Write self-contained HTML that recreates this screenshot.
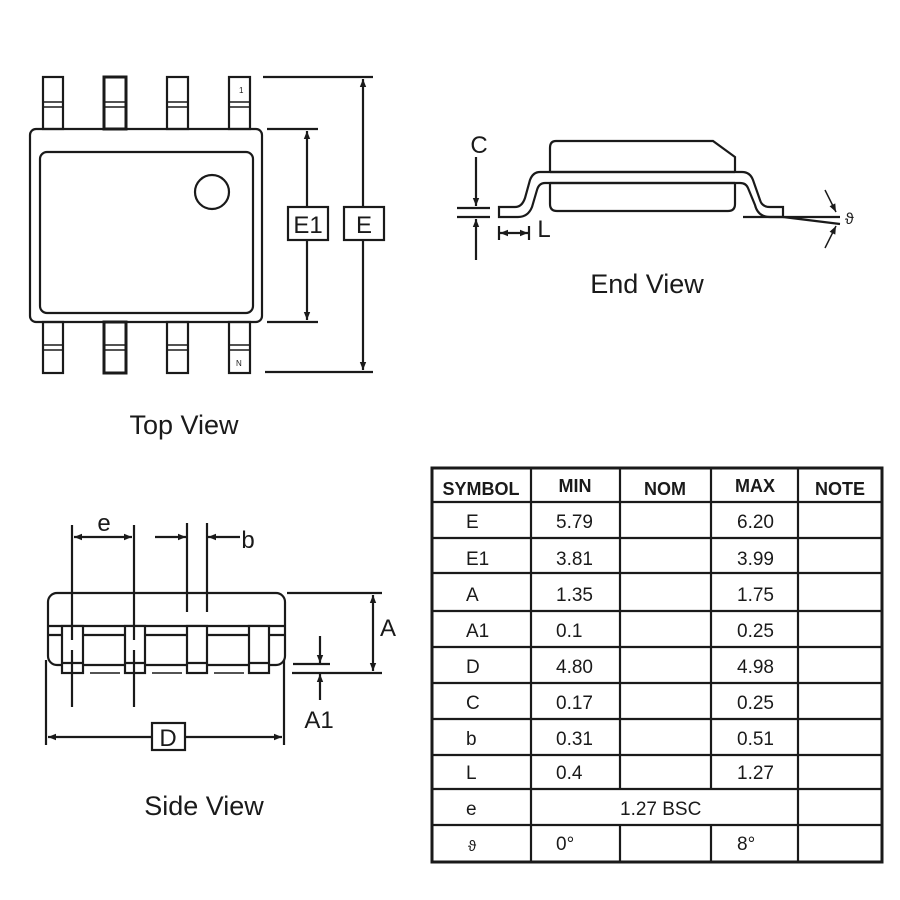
<!DOCTYPE html>
<html><head><meta charset="utf-8"><style>
body{margin:0;background:#fff}
svg{display:block}
text{font-family:"Liberation Sans",sans-serif;fill:#1a1a1a}
</style></head><body>
<svg width="900" height="900" viewBox="0 0 900 900" xmlns="http://www.w3.org/2000/svg">
<defs>
<marker id="ar" viewBox="0 0 10 10" refX="10" refY="5" markerWidth="10" markerHeight="8" orient="auto-start-reverse" markerUnits="userSpaceOnUse"><path d="M0,1 L10,5 L0,9 z" fill="#1a1a1a"/></marker>
</defs>
<g stroke="#1a1a1a" stroke-width="2.2" fill="none">
<!-- TOP VIEW -->
<rect x="30" y="129" width="232" height="193" rx="6" fill="#fff"/>
<rect x="40" y="152" width="213" height="161" rx="7"/>
<circle cx="212" cy="192" r="17"/>
<g>
<rect x="43" y="77" width="20" height="52"/><rect x="104" y="77" width="22" height="52" stroke-width="3"/><rect x="167" y="77" width="21" height="52"/><rect x="229" y="77" width="21" height="52"/>
<rect x="43" y="322" width="20" height="51"/><rect x="104" y="322" width="22" height="51" stroke-width="3"/><rect x="167" y="322" width="21" height="51"/><rect x="229" y="322" width="21" height="51"/>
<path d="M43 102H63M43 107H63M104 102H126M104 107H126M167 102H188M167 107H188M229 102H250M229 107H250" stroke-width="1.5"/>
<path d="M43 345H63M43 350H63M104 345H126M104 350H126M167 345H188M167 350H188M229 345H250M229 350H250" stroke-width="1.5"/>
</g>
<path d="M267 129H318M267 322H318M263 77H373M265 372H373"/>
<line x1="307" y1="131" x2="307" y2="207" marker-start="url(#ar)"/>
<line x1="307" y1="240" x2="307" y2="320" marker-end="url(#ar)"/>
<line x1="363" y1="79" x2="363" y2="207" marker-start="url(#ar)"/>
<line x1="363" y1="240" x2="363" y2="370" marker-end="url(#ar)"/>
<rect x="288" y="207" width="40" height="33" fill="#fff"/>
<rect x="344" y="207" width="40" height="33" fill="#fff"/>

<!-- END VIEW -->
<path d="M556 141H713L735 157V204Q735 211 728 211H557Q550 211 550 204V148Q550 141 556 141Z" fill="#fff"/>
<path d="M499 207H515Q522 207 525 198L530 180Q533 172 540 172H742Q750 172 753 180L760 200Q762 207 770 207H783V217H770Q758 217 755 205L748 188Q746 183 740 183H545Q539 183 537 190L532 207Q528 217 518 217H499Z" fill="#fff"/>
<path d="M550 172H735M550 183H735" />
<path d="M743 217H840M783 217L840 224M457 208H490M457 217H490"/>
<line x1="476" y1="157" x2="476" y2="206" marker-end="url(#ar)"/>
<line x1="476" y1="260" x2="476" y2="219" marker-end="url(#ar)"/>
<path d="M499 226V240M529 226V240"/>
<line x1="500" y1="233" x2="528" y2="233" marker-start="url(#ar)" marker-end="url(#ar)"/>
<line x1="825" y1="190" x2="836" y2="212" marker-end="url(#ar)" stroke-width="1.5"/>
<line x1="825" y1="248" x2="836" y2="226" marker-end="url(#ar)" stroke-width="1.5"/>

<!-- SIDE VIEW -->
<rect x="48" y="593" width="237" height="72" rx="9" fill="#fff"/>
<path d="M48 626H285M48 635H285"/>
<g fill="#fff">
<rect x="62" y="626" width="21" height="47"/><rect x="125" y="626" width="20" height="47"/><rect x="187" y="626" width="20" height="47"/><rect x="249" y="626" width="20" height="47"/>
</g>
<path d="M62 663H83M125 663H145M187 663H207M249 663H269"/>
<path d="M90 673H120M152 673H182M214 673H244" stroke-width="1.5"/>
<path d="M72 525V640M72 650V707M134 525V640M134 650V707M187 523V612M207 523V612"/>
<line x1="74" y1="537" x2="132" y2="537" marker-start="url(#ar)" marker-end="url(#ar)"/>
<line x1="155" y1="537" x2="186" y2="537" marker-end="url(#ar)"/>
<line x1="240" y1="537" x2="208" y2="537" marker-end="url(#ar)"/>
<path d="M287 593H382M292 673H382M293 664H330"/>
<line x1="373" y1="595" x2="373" y2="671" marker-start="url(#ar)" marker-end="url(#ar)"/>
<line x1="320" y1="636" x2="320" y2="663" marker-end="url(#ar)"/>
<line x1="320" y1="700" x2="320" y2="674" marker-end="url(#ar)"/>
<path d="M46 660V745M284 660V745"/>
<line x1="48" y1="737" x2="152" y2="737" marker-start="url(#ar)"/>
<line x1="185" y1="737" x2="282" y2="737" marker-end="url(#ar)"/>
<rect x="152" y="723" width="33" height="27" fill="#fff"/>

<!-- TABLE -->
<rect x="432" y="468" width="450" height="394" stroke-width="3"/>
<path d="M432 502H882M432 538H882M432 573H882M432 611H882M432 647H882M432 683H882M432 719H882M432 755H882M432 789H882M432 825H882"/>
<path d="M531 468V862M798 468V862M620 468V789M711 468V789M620 825V862M711 825V862"/>
</g>
<g font-size="9">
<text x="239" y="93" font-size="8">1</text><text x="236" y="366" font-size="8">N</text>
</g>
<g font-size="24" text-anchor="middle">
<text x="308" y="233">E1</text><text x="364" y="233">E</text>
<text x="479" y="153">C</text><text x="544" y="237">L</text>
<text x="104" y="531">e</text><text x="248" y="548">b</text>
<text x="388" y="636">A</text><text x="319" y="728">A1</text>
<text x="168" y="746">D</text>
</g>
<text x="845" y="224" font-size="16">ϑ</text>
<g font-size="27" text-anchor="middle">
<text x="184" y="434">Top View</text>
<text x="647" y="293">End View</text>
<text x="204" y="815">Side View</text>
</g>
<g font-size="18" font-weight="bold" text-anchor="middle">
<text x="481" y="495">SYMBOL</text><text x="575" y="492">MIN</text><text x="665" y="495">NOM</text><text x="755" y="492">MAX</text><text x="840" y="495">NOTE</text>
</g>
<g font-size="19">
<text x="466" y="528">E</text><text x="556" y="528">5.79</text><text x="737" y="528">6.20</text>
<text x="466" y="565">E1</text><text x="556" y="565">3.81</text><text x="737" y="565">3.99</text>
<text x="466" y="601">A</text><text x="556" y="601">1.35</text><text x="737" y="601">1.75</text>
<text x="466" y="637">A1</text><text x="556" y="637">0.1</text><text x="737" y="637">0.25</text>
<text x="466" y="673">D</text><text x="556" y="673">4.80</text><text x="737" y="673">4.98</text>
<text x="466" y="709">C</text><text x="556" y="709">0.17</text><text x="737" y="709">0.25</text>
<text x="466" y="745">b</text><text x="556" y="745">0.31</text><text x="737" y="745">0.51</text>
<text x="466" y="779">L</text><text x="556" y="779">0.4</text><text x="737" y="779">1.27</text>
<text x="466" y="815">e</text><text x="620" y="815">1.27 BSC</text>
<text x="468" y="851" font-size="15">ϑ</text><text x="556" y="850">0°</text><text x="737" y="850">8°</text>
</g>
</svg>
</body></html>
